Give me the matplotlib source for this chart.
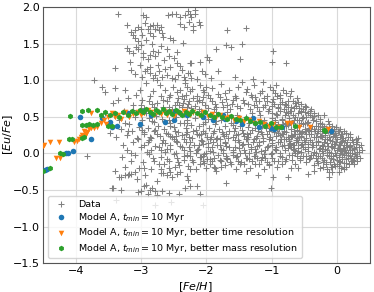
import matplotlib
matplotlib.use("Agg")
import matplotlib.pyplot as plt

data_plume = [
    (-3.36, 1.91), (-3.22, 1.75), (-3.15, 1.66), (-3.13, 1.62), (-3.10, 1.58), (-3.05, 1.73),
    (-3.00, 1.70), (-2.94, 1.78), (-2.90, 1.70), (-2.86, 1.74), (-2.82, 1.75), (-2.78, 1.70),
    (-2.76, 1.76), (-2.73, 1.68), (-2.70, 1.73), (-2.68, 1.65), (-2.87, 1.64), (-2.82, 1.60),
    (-2.66, 1.59), (-2.59, 1.89), (-2.53, 1.91), (-2.46, 1.90), (-2.41, 1.86), (-2.33, 1.89),
    (-2.28, 1.94), (-2.23, 1.87), (-2.18, 1.90), (-2.40, 1.77), (-2.35, 1.72), (-2.27, 1.80),
    (-2.20, 1.74), (-2.12, 1.79), (-2.56, 1.57), (-2.51, 1.55), (-2.36, 1.51), (-3.05, 1.53),
    (-3.00, 1.48), (-3.07, 1.46), (-3.22, 1.44), (-3.19, 1.40), (-3.04, 1.42), (-2.97, 1.37),
    (-3.13, 1.37), (-2.82, 1.40), (-2.74, 1.38), (-2.79, 1.33), (-2.97, 1.31), (-2.90, 1.29),
    (-2.87, 1.35), (-2.60, 1.42), (-2.45, 1.38), (-2.23, 1.23), (-3.17, 1.25), (-3.15, 1.14),
    (-3.40, 1.16), (-2.94, 1.12), (-2.91, 1.15), (-2.86, 1.18), (-2.86, 1.10), (-2.74, 1.21),
    (-2.79, 1.07), (-2.72, 1.12), (-2.82, 1.03), (-2.75, 1.00), (-2.68, 1.05), (-2.60, 1.07),
    (-2.53, 1.03), (-2.43, 1.07), (-2.48, 1.01), (-2.33, 1.00), (-2.23, 1.03), (-2.28, 1.10),
    (-2.56, 1.18), (-2.38, 1.14), (-2.25, 1.91), (-2.17, 1.96), (-2.10, 1.75), (-2.20, 1.69),
    (-1.69, 1.68), (-1.39, 1.71), (-1.85, 1.42), (-1.70, 1.48), (-1.63, 1.45), (-1.46, 1.49),
    (-0.98, 1.40), (-1.49, 1.29), (-1.00, 1.25), (-0.79, 1.23), (-1.99, 1.31), (-1.96, 1.27),
    (-2.10, 1.25), (-2.25, 1.23), (-2.07, 1.13), (-2.25, 1.10), (-1.56, 1.05), (-1.29, 1.01),
    (-1.93, 1.03), (-3.72, 1.00), (-2.14, 1.02), (-2.02, 1.08), (-1.83, 1.12), (-2.45, 1.24),
    (-2.65, 1.27), (-2.50, 1.30), (-2.97, 1.89), (-2.93, 1.86), (-3.09, 1.69), (-2.99, 1.62),
    (-2.92, 1.55), (-2.84, 1.50), (-2.69, 1.47), (-2.57, 1.33), (-2.64, 1.15), (-2.41, 1.20),
    (-3.02, 1.21), (-3.09, 1.08), (-2.98, 1.04), (-2.35, 1.05),
]

data_upper = [
    (-3.60, 0.91), (-3.40, 0.89), (-3.55, 0.84), (-3.20, 0.75), (-3.25, 0.86), (-3.35, 0.73),
    (-3.43, 0.69), (-3.12, 0.66), (-3.07, 0.80), (-3.02, 0.87), (-2.99, 0.73), (-2.92, 0.96),
    (-2.87, 0.78), (-2.82, 0.85), (-2.76, 0.69), (-2.71, 0.94), (-2.69, 0.78), (-2.64, 0.87),
    (-2.61, 0.71), (-2.56, 0.80), (-2.51, 0.91), (-2.48, 0.66), (-2.43, 0.75), (-2.41, 0.87),
    (-2.36, 0.69), (-2.33, 0.96), (-2.31, 0.80), (-2.95, 0.62), (-2.80, 0.64), (-2.66, 0.63),
    (-2.52, 0.61), (-2.38, 0.63), (-2.27, 0.72), (-2.22, 0.88), (-2.18, 0.65), (-2.15, 0.79),
    (-2.10, 0.93), (-2.07, 0.70), (-2.03, 0.84), (-1.98, 0.62), (-1.95, 0.76), (-1.91, 0.89),
    (-1.87, 0.68), (-1.83, 0.81), (-1.78, 0.95), (-1.74, 0.64), (-1.70, 0.74), (-1.66, 0.86),
    (-1.61, 0.67), (-1.57, 0.79), (-1.52, 0.90), (-1.48, 0.62), (-1.44, 0.73), (-1.40, 0.84),
    (-1.36, 0.68), (-1.31, 0.77), (-1.27, 0.93), (-1.23, 0.63), (-1.19, 0.72), (-1.15, 0.85),
    (-1.11, 0.66), (-1.07, 0.78), (-1.03, 0.90), (-0.99, 0.70), (-0.95, 0.82), (-0.91, 0.63),
    (-0.87, 0.75), (-0.83, 0.87), (-0.79, 0.66), (-0.75, 0.72), (-0.70, 0.64), (-0.64, 0.69),
    (-0.58, 0.62), (-0.52, 0.60), (-1.13, 0.97), (-0.93, 0.93), (-1.45, 0.98), (-2.12, 0.61),
    (-2.24, 0.62), (-1.89, 0.60), (-1.64, 0.61), (-1.34, 0.60), (-1.05, 0.61), (-0.82, 0.60),
    (-2.45, 0.84), (-2.05, 0.87), (-1.72, 0.83), (-1.38, 0.88), (-1.18, 0.82), (-0.98, 0.86),
    (-0.78, 0.83), (-2.58, 0.77), (-2.38, 0.79), (-2.20, 0.76), (-1.98, 0.80), (-1.80, 0.77),
    (-1.55, 0.75), (-1.32, 0.80), (-1.12, 0.76), (-0.92, 0.78), (-0.72, 0.79), (-0.62, 0.75),
    (-2.88, 0.71), (-2.66, 0.73), (-2.45, 0.70), (-2.28, 0.68), (-2.12, 0.73), (-1.92, 0.71),
    (-1.76, 0.70), (-1.60, 0.73), (-1.42, 0.69), (-1.24, 0.71), (-1.08, 0.72), (-0.96, 0.68),
    (-0.85, 0.70), (-0.68, 0.72), (-0.55, 0.68), (-3.00, 0.66), (-2.84, 0.67), (-2.58, 0.64),
    (-2.42, 0.66), (-2.30, 0.64), (-2.02, 0.66), (-1.85, 0.64), (-1.68, 0.66), (-1.53, 0.65),
    (-1.28, 0.66), (-1.14, 0.64), (-1.00, 0.65), (-0.88, 0.67), (-0.76, 0.63), (-0.63, 0.65),
    (-0.48, 0.64), (-1.00, 0.55), (-0.90, 0.62), (-0.80, 0.68), (-0.72, 0.58), (-0.66, 0.62),
    (-0.60, 0.70), (-0.55, 0.58), (-0.50, 0.65), (-0.45, 0.55), (-0.40, 0.60), (-0.35, 0.55),
    (-1.20, 0.58), (-1.10, 0.66), (-0.98, 0.74), (-0.88, 0.80), (-0.70, 0.85), (-1.25, 0.77),
    (-2.25, 0.85), (-2.15, 0.71), (-2.05, 0.77), (-2.35, 0.74), (-2.00, 0.91), (-2.30, 0.90),
]

data_band = [
    (-3.55, 0.55), (-3.48, 0.28), (-3.42, 0.52), (-3.38, 0.22), (-3.33, 0.45), (-3.30, 0.33),
    (-3.26, 0.58), (-3.22, 0.25), (-3.18, 0.40), (-3.14, 0.30), (-3.10, 0.50), (-3.06, 0.21),
    (-3.03, 0.36), (-2.99, 0.46), (-2.96, 0.27), (-2.93, 0.55), (-2.90, 0.34), (-2.86, 0.23),
    (-2.83, 0.44), (-2.80, 0.30), (-2.77, 0.51), (-2.74, 0.38), (-2.71, 0.24), (-2.68, 0.47),
    (-2.65, 0.33), (-2.62, 0.57), (-2.59, 0.27), (-2.56, 0.41), (-2.53, 0.22), (-2.50, 0.36),
    (-2.47, 0.49), (-2.44, 0.29), (-2.41, 0.42), (-2.38, 0.25), (-2.35, 0.54), (-2.32, 0.34),
    (-2.29, 0.45), (-2.26, 0.22), (-2.23, 0.39), (-2.20, 0.30), (-2.17, 0.48), (-2.14, 0.26),
    (-2.11, 0.37), (-2.08, 0.58), (-2.05, 0.31), (-2.02, 0.43), (-1.99, 0.23), (-1.96, 0.35),
    (-1.93, 0.52), (-1.90, 0.28), (-1.87, 0.40), (-1.84, 0.21), (-1.81, 0.33), (-1.78, 0.46),
    (-1.75, 0.26), (-1.72, 0.38), (-1.69, 0.57), (-1.66, 0.30), (-1.63, 0.42), (-1.60, 0.22),
    (-1.57, 0.35), (-1.54, 0.53), (-1.51, 0.27), (-1.48, 0.44), (-1.45, 0.32), (-1.42, 0.24),
    (-1.39, 0.50), (-1.36, 0.36), (-1.33, 0.28), (-1.30, 0.55), (-1.27, 0.43), (-1.24, 0.21),
    (-1.21, 0.31), (-1.18, 0.52), (-1.15, 0.26), (-1.12, 0.45), (-1.09, 0.34), (-1.06, 0.58),
    (-1.03, 0.23), (-1.00, 0.48), (-0.97, 0.29), (-0.94, 0.54), (-0.91, 0.40), (-0.88, 0.25),
    (-0.85, 0.47), (-0.82, 0.31), (-0.79, 0.56), (-0.76, 0.22), (-0.73, 0.44), (-0.70, 0.33),
    (-0.67, 0.52), (-0.64, 0.27), (-0.61, 0.46), (-0.58, 0.38), (-0.55, 0.24), (-0.52, 0.50),
    (-0.49, 0.30), (-0.46, 0.42), (-0.43, 0.35), (-0.40, 0.26), (-0.37, 0.45), (-0.34, 0.31),
    (-0.30, 0.38), (-0.27, 0.24), (-0.23, 0.36), (-3.12, 0.59), (-2.98, 0.32), (-2.88, 0.48),
    (-2.72, 0.56), (-2.58, 0.45), (-2.46, 0.24), (-2.34, 0.41), (-2.21, 0.56), (-2.09, 0.27),
    (-1.97, 0.47), (-1.86, 0.57), (-1.73, 0.24), (-1.62, 0.50), (-1.49, 0.37), (-1.37, 0.22),
    (-1.26, 0.34), (-1.14, 0.41), (-1.02, 0.36), (-0.90, 0.28), (-0.80, 0.42), (-0.69, 0.24),
    (-0.60, 0.55), (-0.50, 0.41), (-0.41, 0.52), (-0.33, 0.23), (-3.20, 0.31), (-2.95, 0.29),
    (-2.78, 0.32), (-2.62, 0.28), (-2.48, 0.31), (-2.30, 0.29), (-2.16, 0.32), (-2.02, 0.28),
    (-1.88, 0.31), (-1.76, 0.29), (-1.58, 0.30), (-1.44, 0.28), (-1.31, 0.32), (-1.17, 0.29),
    (-1.04, 0.30), (-0.92, 0.33), (-0.78, 0.29), (-0.66, 0.31), (-0.54, 0.29), (-3.05, 0.19),
    (-2.85, 0.21), (-2.66, 0.18), (-2.50, 0.20), (-2.35, 0.19), (-2.22, 0.21), (-2.08, 0.18),
    (-1.95, 0.20), (-1.80, 0.19), (-1.67, 0.21), (-1.52, 0.18), (-1.40, 0.20), (-1.28, 0.19),
    (-1.13, 0.21), (-0.99, 0.18), (-0.86, 0.20), (-0.74, 0.19), (-0.62, 0.21), (-3.25, 0.41),
    (-3.00, 0.39), (-2.80, 0.43), (-2.55, 0.38), (-2.30, 0.42), (-2.05, 0.40), (-1.85, 0.44),
    (-1.60, 0.39), (-1.35, 0.42), (-1.15, 0.38), (-0.95, 0.43), (-0.75, 0.39), (-0.55, 0.42),
    (-2.75, 0.26), (-2.55, 0.24), (-2.32, 0.27), (-2.12, 0.25), (-1.93, 0.23), (-1.70, 0.27),
    (-1.55, 0.25), (-1.38, 0.26), (-1.22, 0.24), (-1.08, 0.27), (-0.93, 0.24), (-0.83, 0.26),
    (-0.71, 0.25), (-0.59, 0.27),
]

data_low = [
    (-3.83, -0.04), (-3.40, -0.24), (-3.33, -0.32), (-3.29, -0.05), (-3.27, 0.12), (-3.24, -0.18),
    (-3.21, 0.05), (-3.18, -0.28), (-3.15, -0.10), (-3.12, 0.16), (-3.09, -0.02), (-3.06, -0.35),
    (-3.03, -0.20), (-3.00, 0.08), (-2.97, -0.12), (-2.94, -0.30), (-2.91, 0.02), (-2.88, 0.18),
    (-2.85, -0.22), (-2.82, -0.06), (-2.79, 0.10), (-2.76, -0.38), (-2.73, -0.15), (-2.70, 0.04),
    (-2.67, -0.27), (-2.64, 0.14), (-2.61, -0.08), (-2.58, -0.20), (-2.55, 0.06), (-2.52, -0.33),
    (-2.49, -0.01), (-2.46, 0.17), (-2.43, -0.12), (-2.40, -0.25), (-2.37, 0.09), (-2.34, -0.04),
    (-2.31, 0.15), (-2.28, -0.17), (-2.25, 0.03), (-2.22, -0.09), (-2.19, 0.12), (-2.16, -0.22),
    (-2.13, 0.06), (-2.10, -0.05), (-2.07, 0.17), (-2.04, -0.13), (-2.01, 0.01), (-1.98, 0.14),
    (-1.95, -0.08), (-1.92, 0.08), (-1.89, -0.18), (-1.86, 0.19), (-1.83, -0.02), (-1.80, 0.11),
    (-1.77, -0.11), (-1.74, 0.04), (-1.71, 0.16), (-1.68, -0.07), (-1.65, 0.09), (-1.62, -0.15),
    (-1.59, 0.02), (-1.56, 0.18), (-1.53, -0.04), (-1.50, 0.07), (-1.47, -0.12), (-1.44, 0.13),
    (-1.41, 0.00), (-1.38, 0.19), (-1.35, -0.08), (-1.32, 0.06), (-1.29, 0.15), (-1.26, -0.03),
    (-1.23, 0.10), (-1.20, -0.14), (-1.17, 0.03), (-1.14, 0.17), (-1.11, -0.06), (-1.08, 0.08),
    (-1.05, 0.19), (-1.02, -0.01), (-0.99, 0.12), (-0.96, -0.10), (-0.93, 0.05), (-0.90, 0.16),
    (-0.87, -0.04), (-0.84, 0.10), (-0.81, 0.19), (-0.78, -0.08), (-0.75, 0.07), (-0.72, 0.14),
    (-0.69, -0.02), (-0.66, 0.11), (-0.63, 0.18), (-0.60, 0.03), (-0.57, -0.06), (-0.54, 0.13),
    (-1.99, -0.08), (-1.68, -0.08), (-1.87, -0.20), (-1.85, -0.24), (-1.70, -0.07), (-1.42, -0.14),
    (-1.39, -0.24), (-1.38, -0.07), (-1.23, -0.07), (-1.21, -0.30), (-1.04, -0.15), (-0.98, -0.33),
    (-0.75, -0.33), (-2.10, -0.05), (-2.05, -0.03), (-2.95, 0.11), (-2.72, 0.09), (-2.55, 0.12),
    (-2.40, 0.10), (-2.26, 0.08), (-2.12, 0.11), (-1.97, 0.09), (-1.84, 0.12), (-1.70, 0.10),
    (-1.56, 0.08), (-1.45, 0.11), (-1.32, 0.09), (-1.19, 0.12), (-1.06, 0.10), (-0.94, 0.08),
    (-0.82, 0.11), (-0.70, 0.09), (-3.15, 0.01), (-2.88, -0.01), (-2.64, 0.02), (-2.46, 0.00),
    (-2.30, -0.02), (-2.16, 0.01), (-2.03, -0.01), (-1.90, 0.02), (-1.75, 0.00), (-1.60, -0.02),
    (-1.48, 0.01), (-1.35, 0.00), (-1.24, 0.02), (-1.12, -0.01), (-0.99, 0.01), (-0.88, 0.00),
    (-0.73, -0.02), (-0.65, 0.01), (-2.80, -0.10), (-2.57, -0.11), (-2.35, -0.09), (-2.20, -0.12),
    (-2.06, -0.10), (-1.92, -0.11), (-1.79, -0.09), (-1.64, -0.12), (-1.52, -0.10), (-1.30, -0.11),
    (-1.17, -0.09), (-1.07, -0.12), (-0.90, -0.10), (-0.80, -0.11), (-0.69, -0.09), (-2.95, -0.20),
    (-2.70, -0.21), (-2.48, -0.19), (-2.25, -0.22), (-2.00, -0.20), (-1.78, -0.19), (-1.55, -0.22),
    (-1.33, -0.20), (-1.12, -0.21), (-0.92, -0.19), (-0.70, -0.20), (-2.85, 0.05), (-2.60, 0.06),
    (-2.35, 0.04), (-2.15, 0.05), (-1.95, 0.03), (-1.78, 0.06), (-1.60, 0.05), (-1.42, 0.04),
    (-1.25, 0.06), (-1.10, 0.04), (-0.95, 0.06), (-0.80, 0.05), (-0.66, 0.04), (-2.90, 0.15),
    (-2.68, 0.14), (-2.45, 0.16), (-2.25, 0.15), (-2.05, 0.13), (-1.90, 0.16), (-1.72, 0.14),
    (-1.50, 0.15), (-1.36, 0.13), (-1.20, 0.16), (-1.00, 0.14), (-0.88, 0.15), (-0.72, 0.13),
    (-0.60, 0.15), (-2.70, -0.05), (-2.45, -0.06), (-2.25, -0.04), (-2.08, -0.05), (-1.88, -0.06),
    (-1.70, -0.04), (-1.55, -0.05), (-1.40, -0.06), (-1.28, -0.04), (-1.15, -0.05), (-1.00, -0.06),
    (-0.85, -0.05), (-0.62, -0.04), (-2.65, -0.15), (-2.42, -0.16), (-2.10, -0.14), (-1.95, -0.15),
    (-1.72, -0.16), (-1.48, -0.15), (-1.25, -0.14), (-1.05, -0.16), (-0.85, -0.15), (-0.65, -0.14),
]

data_bottom = [
    (-3.45, -0.47), (-3.30, -0.32), (-3.43, -0.48), (-3.30, -0.50), (-3.25, -0.29), (-3.20, -0.30),
    (-3.15, -0.28), (-3.10, -0.25), (-3.05, -0.53), (-3.00, -0.52), (-2.95, -0.45), (-2.92, -0.43),
    (-2.89, -0.55), (-2.86, -0.50), (-2.84, -0.47), (-2.78, -0.52), (-2.76, -0.57), (-2.68, -0.52),
    (-2.58, -0.54), (-2.42, -0.55), (-2.33, -0.48), (-2.25, -0.44), (-2.30, -0.31), (-2.28, -0.37),
    (-2.55, -0.26), (-2.60, -0.29), (-2.70, -0.27), (-2.45, -0.28), (-1.70, -0.40), (-1.01, -0.47),
    (-2.10, -0.55), (-3.38, -0.64), (-2.79, -0.70), (-2.54, -0.66), (-2.05, -0.70), (-2.15, -0.45),
]

data_solar = [
    (-0.85, 0.45), (-0.80, 0.52), (-0.78, 0.38), (-0.74, 0.48), (-0.71, 0.58), (-0.68, 0.41),
    (-0.65, 0.50), (-0.62, 0.36), (-0.59, 0.45), (-0.56, 0.56), (-0.53, 0.40), (-0.50, 0.33),
    (-0.47, 0.49), (-0.44, 0.43), (-0.41, 0.58), (-0.38, 0.37), (-0.35, 0.51), (-0.32, 0.44),
    (-0.29, 0.30), (-0.26, 0.47), (-0.23, 0.40), (-0.20, 0.52), (-0.17, 0.35), (-0.14, 0.44),
    (-0.11, 0.29), (-0.08, 0.38), (-0.05, 0.33), (-0.02, 0.25), (0.01, 0.31), (0.04, 0.22),
    (0.08, 0.27), (0.12, 0.18), (0.16, 0.22), (0.20, 0.12), (0.24, 0.16), (0.28, 0.08),
    (0.32, 0.21), (0.34, 0.02), (0.30, -0.03), (0.26, -0.06), (0.22, -0.10), (0.18, -0.14),
    (0.14, -0.18), (0.10, -0.22), (0.06, -0.20), (0.02, -0.25), (-0.03, -0.17), (-0.08, -0.26),
    (-0.12, -0.25), (-0.16, -0.22), (-0.21, -0.12), (-0.26, -0.20), (-0.31, -0.10), (-0.36, -0.16),
    (-0.41, -0.06), (-0.47, -0.12), (-0.52, -0.03), (-0.57, -0.09), (-0.62, 0.00), (-0.68, 0.06),
    (-0.73, 0.12), (-0.79, 0.20), (-0.84, 0.27), (-0.89, 0.33), (-0.55, 0.22), (-0.50, 0.15),
    (-0.48, 0.26), (-0.45, 0.08), (-0.42, 0.18), (-0.40, 0.30), (-0.37, 0.12), (-0.35, 0.02),
    (-0.33, 0.22), (-0.30, 0.15), (-0.28, 0.06), (-0.27, 0.33), (-0.25, 0.24), (-0.22, 0.10),
    (-0.21, 0.01), (-0.19, 0.19), (-0.18, 0.28), (-0.16, 0.05), (-0.15, 0.14), (-0.13, -0.04),
    (-0.12, 0.22), (-0.10, 0.10), (-0.09, 0.01), (-0.08, 0.17), (-0.06, -0.08), (-0.05, 0.07),
    (-0.04, 0.13), (-0.02, -0.02), (-0.01, 0.20), (0.00, 0.05), (0.02, -0.10), (0.03, 0.11),
    (0.05, 0.01), (0.06, 0.16), (0.07, -0.05), (0.09, 0.07), (0.10, -0.13), (0.11, 0.12),
    (0.13, 0.02), (0.14, -0.08), (0.15, 0.08), (0.17, -0.02), (0.19, 0.04), (0.21, -0.06),
    (0.23, 0.01), (0.25, 0.07), (0.27, -0.01), (-0.20, 0.37), (-0.32, 0.38), (-0.44, 0.32),
    (-0.58, 0.30), (-0.62, 0.18), (-0.66, 0.26), (-0.70, 0.33), (-0.75, 0.40), (-0.52, 0.08),
    (-0.40, -0.02), (-0.30, -0.04), (-0.23, -0.06), (-0.11, -0.12), (-0.03, 0.28), (0.04, 0.06),
    (0.08, -0.01), (0.12, 0.04), (0.16, 0.00), (-0.07, 0.24), (-0.14, 0.31), (0.00, -0.14),
    (-0.17, -0.15), (-0.08, -0.18), (-0.35, -0.24), (-0.12, -0.32), (-0.60, -0.20), (-0.45, -0.28),
    (0.25, -0.14), (0.30, -0.10),
]

data_solar_core = [
    (-0.62, 0.32), (-0.48, 0.30), (-0.36, 0.33), (-0.24, 0.31), (-0.10, 0.32), (0.02, 0.30),
    (-0.66, 0.27), (-0.55, 0.28), (-0.43, 0.26), (-0.31, 0.28), (-0.19, 0.25), (-0.06, 0.27),
    (0.06, 0.26), (0.14, 0.28), (-0.70, 0.22), (-0.58, 0.23), (-0.47, 0.21), (-0.35, 0.23),
    (-0.23, 0.22), (-0.15, 0.20), (-0.04, 0.23), (0.09, 0.21), (0.19, 0.23), (0.28, 0.20),
    (-0.74, 0.17), (-0.63, 0.16), (-0.51, 0.18), (-0.39, 0.16), (-0.29, 0.17), (-0.20, 0.15),
    (-0.11, 0.18), (-0.02, 0.16), (0.07, 0.17), (0.15, 0.15), (0.23, 0.18), (0.31, 0.16),
    (-0.68, 0.12), (-0.56, 0.11), (-0.44, 0.13), (-0.33, 0.11), (-0.24, 0.12), (-0.14, 0.10),
    (-0.05, 0.13), (0.04, 0.11), (0.13, 0.12), (0.20, 0.10), (0.29, 0.13), (-0.60, 0.07),
    (-0.49, 0.06), (-0.38, 0.08), (-0.27, 0.07), (-0.18, 0.06), (-0.08, 0.08), (0.01, 0.07),
    (0.10, 0.05), (0.18, 0.08), (0.26, 0.06), (0.33, 0.09), (-0.55, 0.02), (-0.44, 0.03),
    (-0.32, 0.01), (-0.23, 0.03), (-0.12, 0.02), (-0.04, 0.00), (0.06, 0.03), (0.14, 0.01),
    (0.22, 0.04), (0.30, 0.02), (-0.48, -0.03), (-0.37, -0.02), (-0.26, -0.04), (-0.16, -0.02),
    (-0.07, -0.03), (0.03, -0.05), (0.11, -0.02), (0.19, -0.04), (0.28, -0.03), (-0.43, -0.08),
    (-0.33, -0.07), (-0.20, -0.09), (-0.10, -0.07), (-0.01, -0.09), (0.08, -0.08), (0.16, -0.06),
    (0.24, -0.09), (-0.29, -0.13), (-0.17, -0.12), (-0.05, -0.14), (0.05, -0.12), (0.13, -0.13),
    (0.21, -0.11), (-0.22, -0.18), (-0.09, -0.19), (0.03, -0.17), (0.11, -0.18), (-0.95, 0.45),
    (-0.92, 0.52), (-0.88, 0.58), (-0.83, 0.40), (-0.76, 0.55), (-0.66, 0.46), (-0.54, 0.48),
    (-0.50, 0.56), (-0.39, 0.50), (-0.30, 0.53), (-0.26, 0.42), (-0.12, 0.40), (-0.02, 0.36),
    (0.05, 0.33), (0.11, 0.30), (0.20, 0.26), (0.36, 0.12), (0.38, 0.04), (0.35, -0.06),
]

# model tracks
model_a = [
    (-4.47, -0.23), (-4.44, -0.21), (-4.15, 0.01), (-4.12, 0.01), (-4.04, 0.03), (-3.76, 0.19),
    (-3.93, 0.50), (-3.60, 0.48), (-3.48, 0.43), (-3.45, 0.36), (-3.37, 0.37), (-3.02, 0.40),
    (-3.20, 0.55), (-2.95, 0.58), (-2.85, 0.53), (-2.64, 0.43), (-2.60, 0.57), (-2.50, 0.46),
    (-2.48, 0.58), (-2.40, 0.55), (-2.30, 0.52), (-2.05, 0.50), (-1.90, 0.45), (-1.75, 0.52),
    (-1.72, 0.47), (-1.55, 0.44), (-1.45, 0.40), (-1.29, 0.48), (-1.25, 0.41), (-1.19, 0.36),
    (-1.10, 0.40), (-1.02, 0.34), (-0.96, 0.33), (-0.85, 0.36), (-0.09, 0.31),
]

model_time = [
    (-4.50, 0.10), (-4.48, 0.11), (-4.39, 0.16), (-4.30, -0.07), (-4.25, 0.16), (-4.24, -0.07),
    (-4.02, 0.15), (-3.98, 0.17), (-3.95, 0.20), (-3.92, 0.22), (-3.90, 0.25), (-3.88, 0.30),
    (-3.86, 0.24), (-3.84, 0.27), (-3.82, 0.29), (-3.80, 0.33), (-3.76, 0.35), (-3.72, 0.34),
    (-3.68, 0.36), (-3.76, 0.55), (-3.62, 0.42), (-3.57, 0.46), (-3.53, 0.40), (-3.50, 0.50),
    (-3.45, 0.55), (-3.40, 0.49), (-3.35, 0.53), (-3.30, 0.47), (-3.25, 0.56), (-3.18, 0.50),
    (-3.12, 0.54), (-3.05, 0.57), (-3.00, 0.52), (-2.95, 0.55), (-2.90, 0.59), (-2.85, 0.56),
    (-2.80, 0.52), (-2.75, 0.57), (-2.70, 0.54), (-2.65, 0.58), (-2.60, 0.53), (-2.55, 0.56),
    (-2.50, 0.51), (-2.45, 0.57), (-2.40, 0.54), (-2.35, 0.58), (-2.30, 0.55), (-2.25, 0.52),
    (-2.20, 0.56), (-2.12, 0.53), (-2.05, 0.57), (-1.98, 0.51), (-1.92, 0.54), (-1.85, 0.49),
    (-1.80, 0.52), (-1.72, 0.48), (-1.65, 0.50), (-1.58, 0.46), (-1.50, 0.48), (-1.42, 0.44),
    (-1.35, 0.46), (-1.28, 0.42), (-1.20, 0.44), (-1.12, 0.40), (-1.05, 0.37), (-0.98, 0.40),
    (-0.90, 0.36), (-0.77, 0.41), (-0.70, 0.41), (-0.58, 0.36), (-0.42, 0.36), (-0.14, 0.33),
]

model_mass = [
    (-4.50, -0.24), (-4.39, -0.195), (-4.24, 0.00), (-4.20, -0.01), (-4.11, 0.19), (-4.06, 0.19),
    (-4.09, 0.51), (-3.91, 0.21), (-3.88, 0.23), (-3.90, 0.39), (-3.85, 0.39), (-3.80, 0.40),
    (-3.74, 0.39), (-3.68, 0.40), (-3.91, 0.58), (-3.81, 0.59), (-3.68, 0.59), (-3.62, 0.52),
    (-3.55, 0.56), (-3.50, 0.38), (-3.44, 0.37), (-3.48, 0.52), (-3.40, 0.55), (-3.33, 0.50),
    (-3.27, 0.57), (-3.20, 0.53), (-3.14, 0.58), (-3.08, 0.55), (-3.02, 0.59), (-2.97, 0.56),
    (-2.92, 0.60), (-2.87, 0.57), (-2.82, 0.54), (-2.77, 0.59), (-2.72, 0.56), (-2.67, 0.60),
    (-2.62, 0.55), (-2.57, 0.58), (-2.52, 0.54), (-2.47, 0.59), (-2.42, 0.56), (-2.37, 0.52),
    (-2.32, 0.57), (-2.27, 0.54), (-2.22, 0.58), (-2.15, 0.55), (-2.08, 0.52), (-2.02, 0.56),
    (-1.95, 0.53), (-1.88, 0.50), (-1.82, 0.54), (-1.76, 0.50), (-1.68, 0.47), (-1.62, 0.51),
    (-1.55, 0.47), (-1.48, 0.45), (-1.40, 0.48), (-1.33, 0.44), (-1.26, 0.42), (-1.18, 0.43),
    (-1.10, 0.38), (-1.02, 0.41), (-0.94, 0.36), (-0.86, 0.36), (-0.65, 0.37), (-0.18, 0.31),
    (-0.20, 0.32),
]

xticks = [-4, -3, -2, -1, 0]
yticks = [-1.5, -1.0, -0.5, 0.0, 0.5, 1.0, 1.5, 2.0]

plt.rcParams["font.size"] = 8

fig = plt.figure(figsize=(3.74, 2.92), dpi=100)
ax = fig.add_axes([0.115, 0.099, 0.874, 0.877])

stars = data_plume + data_upper + data_band + data_low + data_bottom + data_solar + data_solar_core
sx, sy = zip(*stars)
ax.scatter(sx, sy, marker="+", s=16, c="grey", linewidths=0.75, label="Data", zorder=2)

for pts, col, mk, lab in [
    (model_a, "#1f77b4", "o", r"Model A, $t_{min} = 10$ Myr"),
    (model_time, "#ff7f0e", "v", r"Model A, $t_{min} = 10$ Myr, better time resolution"),
    (model_mass, "#2ca02c", "h", r"Model A, $t_{min} = 10$ Myr, better mass resolution"),
]:
    mx, my = zip(*pts)
    ax.scatter(mx, my, marker=mk, s=16, c=col, linewidths=0, label=lab, zorder=3)

ax.set_xlim(-4.5, 0.5)
ax.set_ylim(-1.5, 2.0)
ax.set_xticks(xticks)
ax.set_yticks(yticks)
ax.grid(True, color="#d9d9d9", linewidth=0.8, zorder=0)
ax.set_axisbelow(True)
ax.tick_params(length=0, pad=2)
for sp in ax.spines.values():
    sp.set_color("#555555")
    sp.set_linewidth(0.8)

ax.set_xlabel(r"$[Fe/H]$")
ax.xaxis.set_label_coords(0.465, -0.065)
ax.set_ylabel(r"$[Eu/Fe]$")
ax.yaxis.set_label_coords(-0.087, 0.5)

leg = ax.legend(loc="lower left", framealpha=0.8, fontsize=6.8, borderpad=0.4,
                labelspacing=0.25, scatterpoints=1)
leg.get_frame().set_edgecolor("#cccccc")

fig.savefig("out.png", dpi=100)
